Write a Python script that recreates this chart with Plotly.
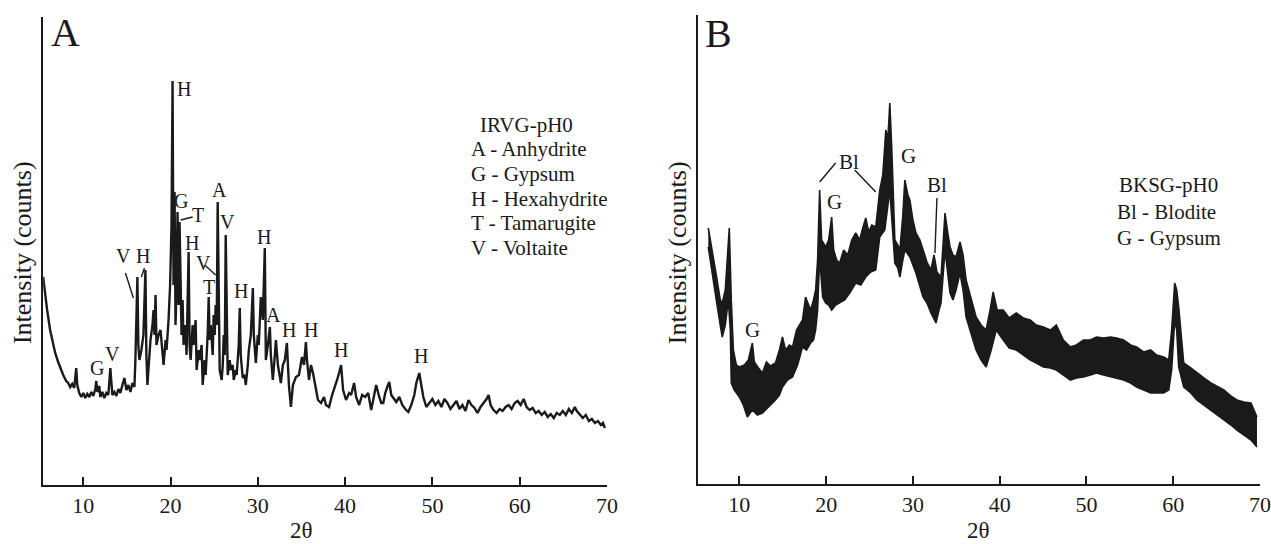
import plotly.graph_objects as go

W, H = 1271, 544
# the captured page comes out horizontally squeezed by about 1271/1286, so horizontal
# pixel targets are converted with this effective width
W_EFF = 1256

# ---------------- Panel A data (IRVG-pH0) ----------------
a_two_theta = [5.40, 5.63, 5.86, 6.20, 6.43, 6.78, 7.12, 7.47, 7.70, 8.04, 8.27, 8.50, 8.73, 8.96, 9.19, 9.31,
               9.54, 9.77, 10.00, 10.23, 10.46, 10.69, 10.92, 11.15, 11.38, 11.49, 11.61, 11.84, 11.95, 12.18,
               12.41, 12.64, 12.87, 13.10, 13.33, 13.56, 13.79, 14.02, 14.25, 14.48, 14.71, 14.94, 15.17, 15.40,
               15.63, 15.86, 15.97, 16.20, 16.31, 16.43, 16.66, 16.89, 17.12, 17.23, 17.35, 17.58, 17.70, 17.93,
               18.05, 18.16, 18.28, 18.39, 18.62, 18.85, 19.08, 19.20, 19.43, 19.54, 19.77, 19.95, 20.11, 20.23,
               20.34, 20.46, 20.57, 20.69, 20.80, 20.92, 21.03, 21.15, 21.26, 21.38, 21.49, 21.72, 21.83, 22.07,
               22.18, 22.30, 22.53, 22.64, 22.87, 22.99, 23.22, 23.33, 23.56, 23.68, 23.91, 24.02, 24.25, 24.37,
               24.48, 24.60, 24.83, 24.94, 25.06, 25.17, 25.29, 25.40, 25.52, 25.63, 25.86, 25.98, 26.09, 26.21,
               26.32, 26.44, 26.55, 26.78, 26.89, 27.12, 27.24, 27.47, 27.58, 27.81, 27.93, 28.04, 28.27, 28.49,
               28.62, 28.85, 28.97, 29.20, 29.43, 29.54, 29.77, 30.00, 30.11, 30.34, 30.57, 30.80, 30.92, 31.15,
               31.38, 31.49, 31.72, 31.95, 32.07, 32.30, 32.64, 32.87, 33.10, 33.33, 33.56, 33.79, 34.02, 34.37,
               34.71, 35.06, 35.29, 35.51, 35.63, 35.86, 36.09, 36.32, 36.55, 36.89, 37.24, 37.58, 37.81, 38.16,
               38.51, 38.73, 39.08, 39.31, 39.54, 39.77, 40.11, 40.46, 40.69, 41.03, 41.26, 41.61, 41.95, 42.30,
               42.64, 42.99, 43.33, 43.56, 43.91, 44.14, 44.37, 44.60, 44.83, 45.06, 45.29, 45.63, 45.86, 46.21,
               46.55, 46.89, 47.24, 47.58, 47.93, 48.16, 48.50, 48.73, 48.96, 49.31, 49.66, 50.00, 50.34, 50.69,
               51.03, 51.38, 51.72, 52.07, 52.41, 52.76, 53.10, 53.45, 53.79, 54.14, 54.48, 54.83, 55.17, 55.52,
               55.86, 56.21, 56.44, 56.67, 57.01, 57.36, 57.70, 58.05, 58.39, 58.74, 59.08, 59.43, 59.77, 60.11,
               60.46, 60.80, 61.15, 61.49, 61.84, 62.18, 62.53, 62.87, 63.22, 63.56, 63.91, 64.25, 64.60, 64.94,
               65.29, 65.63, 65.98, 66.32, 66.55, 66.90, 67.24, 67.58, 67.93, 68.27, 68.62, 68.97, 69.31, 69.54,
               69.77]
a_intensity = [208, 190, 175, 155, 145, 132, 123, 114, 110, 104, 102, 98, 101, 97, 117, 100,
               92, 88, 92, 87, 91, 88, 93, 89, 96, 104, 93, 99, 88, 93,
               87, 92, 90, 117, 90, 93, 89, 96, 92, 100, 107, 95, 100, 93,
               102, 98, 125, 208, 140, 125, 135, 150, 215, 130, 100, 130, 145, 160,
               175, 150, 190, 140, 150, 155, 125, 120, 145, 135, 165, 200, 260, 404,
               200, 293, 160, 200, 273, 180, 263, 170, 150, 185, 140, 160, 130, 233,
               140, 125, 160, 140, 165, 115, 135, 125, 140, 100, 125, 110, 150, 188,
               145, 160, 130, 170, 150, 180, 160, 283, 150, 115, 105, 120, 150, 130,
               250, 140, 110, 125, 115, 120, 105, 115, 110, 140, 177, 130, 107, 110,
               100, 120, 135, 150, 197, 150, 122, 150, 140, 188, 165, 237, 125, 140,
               158, 130, 105, 130, 145, 120, 102, 120, 125, 142, 100, 78, 100, 108,
               110, 128, 120, 143, 125, 105, 120, 112, 100, 85, 82, 88, 80, 78,
               90, 95, 105, 112, 120, 95, 85, 92, 90, 102, 88, 80, 90, 88,
               92, 75, 90, 100, 88, 82, 82, 92, 98, 103, 90, 85, 83, 88,
               80, 76, 73, 80, 90, 102, 112, 100, 88, 78, 82, 86, 80, 84,
               78, 86, 82, 76, 80, 84, 76, 80, 74, 85, 80, 77, 72, 78,
               82, 86, 90, 80, 75, 72, 76, 74, 78, 80, 76, 82, 84, 80,
               86, 78, 75, 77, 72, 74, 70, 73, 68, 71, 67, 72, 70, 74,
               70, 76, 72, 78, 74, 70, 67, 70, 64, 66, 62, 64, 60, 62,
               57]

# ---------------- Panel B data (BKSG-pH0): noisy band envelopes ----------------
b_upper_two_theta = [6.42, 6.88, 7.34, 7.80, 8.03, 8.38, 8.84, 9.07, 9.31, 9.65, 10.00, 10.58, 11.04, 11.50, 11.73,
                     12.20, 12.66, 13.12, 13.58, 14.16, 14.62, 14.97, 15.32, 15.78, 16.13, 16.59, 16.94, 17.28,
                     17.63, 17.98, 18.21, 18.55, 18.79, 19.02, 19.25, 19.48, 19.71, 19.94, 20.29, 20.64, 20.87,
                     21.21, 21.56, 22.02, 22.49, 22.95, 23.41, 23.87, 24.22, 24.57, 24.91, 25.26, 25.72, 25.95,
                     26.18, 26.53, 26.88, 27.11, 27.34, 27.57, 27.69, 27.92, 28.26, 28.50, 28.84, 29.07, 29.42,
                     29.65, 30.00, 30.35, 30.81, 31.16, 31.62, 32.08, 32.43, 32.77, 33.24, 33.47, 33.70, 34.05,
                     34.28, 34.62, 34.97, 35.43, 35.78, 36.13, 36.71, 37.28, 37.86, 38.44, 38.90, 39.25, 39.71,
                     40.41, 41.10, 41.91, 42.72, 43.53, 44.22, 45.03, 45.84, 46.53, 47.34, 48.15, 48.84, 49.65,
                     50.46, 51.16, 51.97, 52.78, 53.47, 54.28, 55.09, 55.78, 56.59, 57.40, 58.09, 58.90, 59.48,
                     59.82, 60.17, 60.40, 60.63, 60.98, 61.21, 62.02, 62.72, 63.53, 64.34, 65.03, 65.84, 66.65,
                     67.34, 68.15, 68.96, 69.65]
b_upper_intensity = [256, 234, 209, 184, 181, 194, 256, 184, 134, 119, 117, 119, 124, 141, 122,
                     116, 111, 122, 118, 121, 134, 147, 134, 139, 137, 154, 159, 164,
                     187, 179, 174, 184, 194, 224, 294, 244, 241, 237, 244, 267, 234,
                     224, 221, 234, 229, 244, 251, 244, 256, 266, 252, 259, 257, 279,
                     294, 309, 354, 344, 381, 334, 294, 244, 239, 234, 269, 304, 289,
                     284, 264, 251, 244, 234, 222, 214, 229, 212, 207, 239, 271, 249,
                     237, 229, 227, 242, 229, 204, 184, 167, 159, 154, 174, 192, 174,
                     174, 166, 171, 166, 164, 159, 157, 154, 159, 144, 137, 139, 144,
                     144, 147, 146, 147, 146, 144, 139, 137, 132, 134, 129, 127, 124,
                     154, 201, 194, 177, 139, 121, 116, 111, 106, 101, 98, 94, 88,
                     84, 82, 81, 67]
b_lower_two_theta = [6.42, 6.88, 7.34, 7.80, 8.03, 8.38, 8.73, 8.96, 9.07, 9.42, 10.00, 10.46, 10.92, 11.50,
                     12.08, 12.66, 13.24, 13.70, 14.16, 14.62, 14.97, 15.55, 16.13, 16.71, 17.28, 17.74, 18.21,
                     18.55, 18.79, 19.02, 19.25, 19.60, 19.94, 20.29, 20.64, 21.10, 21.56, 22.14, 22.72, 23.41,
                     23.99, 24.57, 25.14, 25.72, 26.18, 26.76, 27.34, 27.69, 27.92, 28.26, 28.50, 28.84, 29.07,
                     29.65, 30.35, 31.16, 31.62, 32.08, 32.66, 33.01, 33.24, 33.70, 34.28, 34.62, 34.97, 35.43,
                     35.78, 36.13, 36.71, 37.28, 37.86, 38.44, 39.02, 39.60, 40.41, 41.10, 41.91, 42.72, 43.53,
                     44.22, 45.03, 45.84, 46.53, 47.34, 48.15, 48.84, 49.65, 50.46, 51.16, 51.97, 52.78, 53.47,
                     54.28, 55.09, 55.78, 56.59, 57.40, 58.09, 58.90, 59.48, 59.82, 60.17, 60.40, 60.63, 60.98,
                     61.21, 62.02, 62.72, 63.53, 64.34, 65.03, 65.84, 66.65, 67.34, 68.15, 68.96, 69.65]
b_lower_intensity = [237, 209, 184, 159, 147, 159, 184, 154, 101, 94, 87, 79, 67, 74,
                     69, 71, 76, 79, 84, 89, 97, 104, 107, 119, 137, 134, 141,
                     144, 154, 174, 227, 187, 181, 179, 174, 179, 181, 184, 191, 201,
                     199, 207, 212, 214, 247, 254, 294, 244, 221, 216, 207, 224, 234,
                     227, 211, 187, 181, 171, 161, 174, 181, 234, 191, 184, 194, 211,
                     194, 167, 149, 134, 124, 117, 134, 154, 144, 136, 134, 129, 124,
                     121, 117, 116, 114, 109, 104, 106, 107, 109, 111, 109, 107, 106,
                     104, 101, 97, 94, 91, 91, 91, 94, 114, 164, 154, 117, 104,
                     97, 91, 84, 79, 74, 69, 64, 59, 54, 49, 44, 37]

# ---------------- Tick labels ----------------
tick_values = [10, 20, 30, 40, 50, 60, 70]
tick_text = ["10", "20", "30", "40", "50", "60", "70"]

# ---------------- Peak labels ----------------
a_peak_labels = ["H", "G", "T", "A", "V", "H", "V", "T", "H", "H", "A", "H", "H", "H", "H", "G", "V", "V", "H"]
a_peak_two_theta = [21.49, 21.15, 23.10, 25.63, 26.55, 22.41, 23.79, 24.37, 30.69, 28.04, 31.84, 33.56,
                    36.09, 39.54, 48.73, 11.61, 13.33, 14.60, 16.89]
a_peak_intensity = [396, 284, 270, 295, 263, 242, 222, 198, 248, 194, 170, 155, 155, 135, 129, 117, 131, 229, 229]

b_peak_labels = ["G", "Bl", "G", "G", "Bl"]
b_peak_two_theta = [11.50, 22.60, 20.98, 29.54, 32.77]
b_peak_intensity = [154, 322, 282, 328, 299]

# leader lines (two_theta0, intensity0, two_theta1, intensity1)
a_leaders = [(21.15, 265, 22.53, 268), (23.91, 220, 25.17, 210), (14.83, 212, 15.74, 187), (16.66, 208, 17.01, 217)]
b_leaders = [(19.25, 302, 21.10, 321), (23.30, 314, 25.72, 292), (32.77, 286, 32.54, 231)]

a_legend = ["IRVG-pH0", "A - Anhydrite", "G - Gypsum", "H - Hexahydrite", "T - Tamarugite", "V - Voltaite"]
b_legend = ["BKSG-pH0", "Bl - Blodite", "G - Gypsum"]

FONT = "Liberation Serif"
INK = "#1a1a1a"

fig = go.Figure()
fig.add_trace(go.Scatter(x=a_two_theta, y=a_intensity, mode="lines",
                         line=dict(color=INK, width=2.4), xaxis="x", yaxis="y", hoverinfo="skip"))
fig.add_trace(go.Scatter(x=b_upper_two_theta, y=b_upper_intensity, mode="lines",
                         line=dict(color=INK, width=1.6), xaxis="x2", yaxis="y2", hoverinfo="skip"))
fig.add_trace(go.Scatter(x=b_lower_two_theta, y=b_lower_intensity, mode="lines", fill="tonexty",
                         fillcolor=INK, line=dict(color=INK, width=1.6), xaxis="x2", yaxis="y2",
                         hoverinfo="skip"))


def px_x(p):
    return min(p / W_EFF, 1.0)


def px_y(p):
    return 1 - p / H


xaxis_common = dict(showline=True, linecolor=INK, linewidth=1.6, showgrid=False, zeroline=False,
                    ticks="inside", ticklen=8, tickwidth=1.6, tickcolor=INK,
                    tickvals=tick_values, ticktext=tick_text,
                    tickfont=dict(family=FONT, size=22, color=INK), ticklabelstandoff=0)
yaxis_common = dict(showline=True, linecolor=INK, linewidth=1.6, showgrid=False, zeroline=False,
                    showticklabels=False, ticks="")

fig.update_layout(
    width=W, height=H,
    margin=dict(l=0, r=0, t=0, b=0),
    paper_bgcolor="white", plot_bgcolor="white",
    showlegend=False,
    xaxis=dict(domain=[px_x(43), px_x(605)], range=[5.4, 70], anchor="y", **xaxis_common),
    yaxis=dict(domain=[px_y(485), px_y(17)], range=[0, 468], anchor="x", **yaxis_common),
    xaxis2=dict(domain=[px_x(696), px_x(1256)], range=[5.26, 70], anchor="y2", **xaxis_common),
    yaxis2=dict(domain=[px_y(484), px_y(15)], range=[0, 469], anchor="x2", **yaxis_common),
)


def text_ann(text, x, y, xref, yref, size, xanchor="center", angle=0):
    return dict(text=text, x=x, y=y, xref=xref, yref=yref, showarrow=False,
                xanchor=xanchor, yanchor="middle", textangle=angle,
                font=dict(family=FONT, size=size, color=INK))


ann = []
for t, xv, yv in zip(a_peak_labels, a_peak_two_theta, a_peak_intensity):
    ann.append(text_ann(t, xv, yv, "x", "y", 20))
for t, xv, yv in zip(b_peak_labels, b_peak_two_theta, b_peak_intensity):
    ann.append(text_ann(t, xv, yv, "x2", "y2", 21))

# panel letters
ann.append(text_ann("A", px_x(65), px_y(32), "paper", "paper", 40))
ann.append(text_ann("B", px_x(716), px_y(33), "paper", "paper", 40))

# axis titles
for cx in (22, 675):
    ann.append(text_ann("Intensity (counts)", px_x(cx), px_y(253), "paper", "paper", 26, angle=-90))
for cx in (301, 975):
    ann.append(text_ann("2θ", px_x(cx), px_y(530), "paper", "paper", 23))

# legends (as text blocks)
a_leg_y = [125, 149, 174, 199, 223, 248]
a_leg_x = [476, 468, 468, 468, 468, 468]
for t, lx, ly in zip(a_legend, a_leg_x, a_leg_y):
    ann.append(text_ann(t, px_x(lx), px_y(ly), "paper", "paper", 21, xanchor="left"))
b_leg_y = [185, 212, 238]
b_leg_x = [1113, 1111, 1111]
for t, lx, ly in zip(b_legend, b_leg_x, b_leg_y):
    ann.append(text_ann(t, px_x(lx), px_y(ly), "paper", "paper", 21, xanchor="left"))

fig.update_layout(annotations=ann)

shapes = []
for x0, y0, x1, y1 in a_leaders:
    shapes.append(dict(type="line", xref="x", yref="y", x0=x0, y0=y0, x1=x1, y1=y1,
                       line=dict(color=INK, width=1.4)))
for x0, y0, x1, y1 in b_leaders:
    shapes.append(dict(type="line", xref="x2", yref="y2", x0=x0, y0=y0, x1=x1, y1=y1,
                       line=dict(color=INK, width=1.4)))
fig.update_layout(shapes=shapes)

fig.write_html(
    "out.html",
    config={"displayModeBar": False, "responsive": False},
    default_width="1271px",
    default_height="544px",
    post_script="document.body.style.margin='0px';document.body.style.overflow='hidden';",
)
